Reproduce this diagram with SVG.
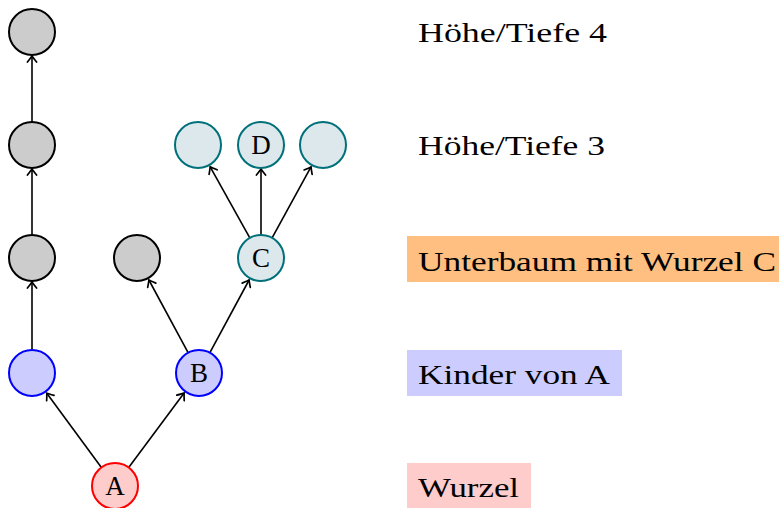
<svg xmlns="http://www.w3.org/2000/svg" width="779" height="508" viewBox="0 0 779 508">
<style>
text{font-family:"Liberation Serif","DejaVu Serif",serif;fill:#000}
.lbl{font-size:28px}
.nl{font-size:27px;text-anchor:middle}
circle{stroke-width:2}
.gray{fill:#cccccc;stroke:#000}
.blue{fill:#ccccff;stroke:#0000ff}
.red{fill:#ffcccc;stroke:#ff0000}
.teal{fill:#dde8ec;stroke:#00707a}
.edge{stroke:#000;stroke-width:1.6;fill:none;marker-end:url(#arr)}
</style>
<defs>
<marker id="arr" markerUnits="userSpaceOnUse" markerWidth="12" markerHeight="12" refX="0" refY="0" viewBox="-7 -6 9 12" orient="auto">
<path d="M-6,-4.6 Q-1.5,-1 0,0 Q-1.5,1 -6,4.6" stroke="#000" stroke-width="1.7" fill="none" stroke-linecap="round"/>
</marker>
</defs>
<g id="labels">
<text class="lbl" x="418" y="42" textLength="189" lengthAdjust="spacingAndGlyphs">Höhe/Tiefe 4</text>
<text class="lbl" x="418" y="155" textLength="187" lengthAdjust="spacingAndGlyphs">Höhe/Tiefe 3</text>
<rect x="407" y="236" width="372" height="46" fill="#ffbf80"/>
<text class="lbl" x="418" y="271" textLength="358" lengthAdjust="spacingAndGlyphs">Unterbaum mit Wurzel C</text>
<rect x="407" y="350" width="215" height="46" fill="#ccccff"/>
<text class="lbl" x="418" y="384" textLength="192" lengthAdjust="spacingAndGlyphs">Kinder von A</text>
<rect x="407" y="463" width="124" height="45" fill="#ffcccc"/>
<text class="lbl" x="418" y="497" textLength="101" lengthAdjust="spacingAndGlyphs">Wurzel</text>
</g>
<g id="edges">
<line class="edge" x1="101.4" y1="467.5" x2="46.8" y2="393.2"/>
<line class="edge" x1="128.7" y1="467.5" x2="184.1" y2="393.1"/>
<line class="edge" x1="32" y1="350" x2="32" y2="282"/>
<line class="edge" x1="32" y1="235" x2="32" y2="169"/>
<line class="edge" x1="32" y1="122" x2="32" y2="56"/>
<line class="edge" x1="188.1" y1="352.7" x2="148.9" y2="280"/>
<line class="edge" x1="209.9" y1="352.7" x2="249.1" y2="280"/>
<line class="edge" x1="249.8" y1="237.9" x2="210.2" y2="166.8"/>
<line class="edge" x1="261" y1="235" x2="261" y2="169"/>
<line class="edge" x1="272.1" y1="237.8" x2="311" y2="166.9"/>
</g>
<g id="n1"><circle class="gray" cx="32" cy="32" r="23"/></g>
<g id="n2"><circle class="gray" cx="32" cy="145" r="23"/></g>
<g id="n3"><circle class="gray" cx="32" cy="258" r="23"/></g>
<g id="n4"><circle class="blue" cx="32" cy="373" r="23"/></g>
<g id="nA"><circle class="red" cx="115" cy="486" r="23"/><text class="nl" x="115" y="495">A</text></g>
<g id="nB"><circle class="blue" cx="199" cy="373" r="23"/><text class="nl" x="199" y="382">B</text></g>
<g id="n5"><circle class="gray" cx="137" cy="258" r="23"/></g>
<g id="nC"><circle class="teal" cx="261" cy="258" r="23"/><text class="nl" x="261" y="267">C</text></g>
<g id="n6"><circle class="teal" cx="198" cy="145" r="23"/></g>
<g id="nD"><circle class="teal" cx="261" cy="145" r="23"/><text class="nl" x="261" y="154">D</text></g>
<g id="n7"><circle class="teal" cx="323" cy="145" r="23"/></g>
</svg>
